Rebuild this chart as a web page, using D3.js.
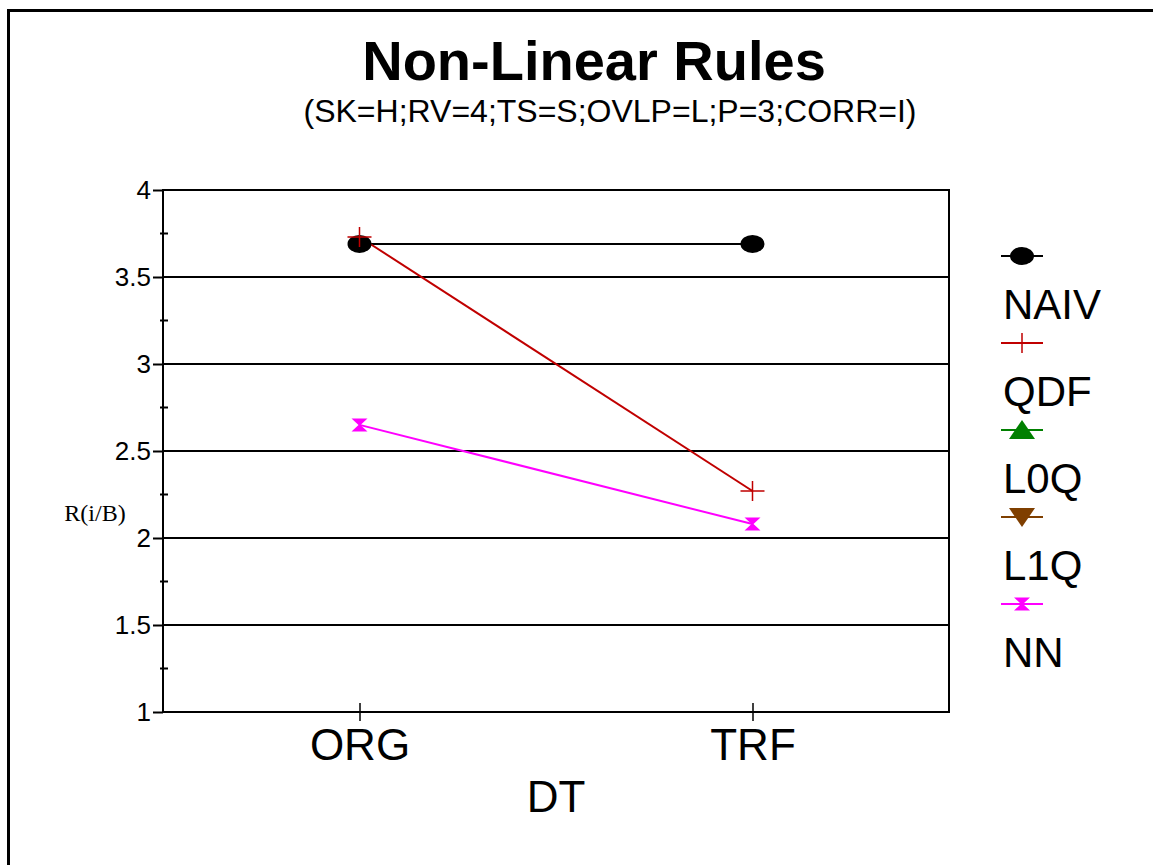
<!DOCTYPE html>
<html>
<head>
<meta charset="utf-8">
<script src="https://cdn.jsdelivr.net/npm/d3@7"></script>
<style>
  body { margin: 0; background: #fff; }
  svg { display: block; font-family: "Liberation Sans", Arial, sans-serif; }
</style>
</head>
<body>
<div id="chart"></div>
<script>
// data
const categories = ["ORG", "TRF"];
const seriesNames = ["NAIV", "QDF", "L0Q", "L1Q", "NN"];
const naivValues = [3.69, 3.69];
const qdfValues = [3.73, 2.27];
const l0qValues = [];
const l1qValues = [];
const nnValues = [2.65, 2.08];
const yTicks = [1, 1.5, 2, 2.5, 3, 3.5, 4];
const yMinorTicks = [1.25, 1.75, 2.25, 2.75, 3.25, 3.75];

const seriesColors = ["#000000", "#c00000", "#008000", "#7f3f00", "#ff00ff"];
const seriesShapes = ["ellipse", "plus", "triUp", "triDown", "hourglass"];
const seriesValues = [naivValues, qdfValues, l0qValues, l1qValues, nnValues];

const W = 1153, H = 865;
const margin = { top: 190, left: 163, right: W - 949, bottom: H - 712 };
const width = W - margin.left - margin.right;
const height = H - margin.top - margin.bottom;

const svg = d3.select("#chart").append("svg")
    .attr("width", W)
    .attr("height", H);

// outer frame, runs off the right and bottom edges
svg.append("rect")
    .attr("x", 8.5).attr("y", 10.5)
    .attr("width", 1300).attr("height", 1000)
    .attr("fill", "none")
    .attr("stroke", "#000")
    .attr("stroke-width", 3);

svg.append("text")
    .attr("x", 594).attr("y", 80)
    .attr("text-anchor", "middle")
    .attr("font-size", 56)
    .attr("font-weight", "bold")
    .text("Non-Linear Rules");

svg.append("text")
    .attr("x", 610).attr("y", 122)
    .attr("text-anchor", "middle")
    .attr("font-size", 32)
    .text("(SK=H;RV=4;TS=S;OVLP=L;P=3;CORR=I)");

const g = svg.append("g")
    .attr("transform", `translate(${margin.left}, ${margin.top})`);

const x = d3.scalePoint().domain(categories).range([0, width]).padding(0.5);
const y = d3.scaleLinear().domain([1, 4]).range([height, 0]);

// gridlines
g.selectAll(".grid").data(yTicks.filter(d => d > 1 && d < 4))
    .enter().append("line")
    .attr("class", "grid")
    .attr("x1", 0).attr("x2", width)
    .attr("y1", d => y(d)).attr("y2", d => y(d))
    .attr("stroke", "#000")
    .attr("stroke-width", 2);

// plot border
g.append("rect")
    .attr("x", 0).attr("y", 0)
    .attr("width", width).attr("height", height)
    .attr("fill", "none")
    .attr("stroke", "#000")
    .attr("stroke-width", 2);

// y axis
const yAxis = d3.axisLeft(y).tickValues(yTicks).tickSize(10).tickPadding(2).tickFormat(d3.format("~g"));
const yAxisG = g.append("g").call(yAxis);
yAxisG.select(".domain").remove();
yAxisG.selectAll("line").attr("stroke-width", 2);
yAxisG.selectAll("text")
    .attr("font-size", 26)
    .attr("font-family", "Liberation Sans, Arial, sans-serif")
    .attr("fill", "#000");

g.selectAll(".minor").data(yMinorTicks)
    .enter().append("line")
    .attr("class", "minor")
    .attr("x1", -3).attr("x2", 5)
    .attr("y1", d => y(d)).attr("y2", d => y(d))
    .attr("stroke", "#000")
    .attr("stroke-width", 2);

// x axis
const xAxis = d3.axisBottom(x).tickSizeInner(9).tickSizeOuter(0).tickPadding(10);
const xAxisG = g.append("g")
    .attr("transform", `translate(0, ${height})`)
    .call(xAxis);
xAxisG.select(".domain").remove();
xAxisG.selectAll("line").attr("y1", -9).attr("stroke-width", 1.5);
xAxisG.selectAll("text")
    .attr("font-size", 44)
    .attr("font-family", "Liberation Sans, Arial, sans-serif")
    .attr("fill", "#000")
    .attr("dy", null)
    .attr("y", 48);

svg.append("text")
    .attr("x", margin.left + width / 2).attr("y", 812)
    .attr("text-anchor", "middle")
    .attr("font-size", 44)
    .text("DT");

svg.append("text")
    .attr("x", 95).attr("y", 521)
    .attr("text-anchor", "middle")
    .attr("font-family", "Liberation Serif, 'Times New Roman', serif")
    .attr("font-size", 24)
    .text("R(i/B)");

function drawMarker(sel, shape, color) {
    if (shape === "ellipse") {
        sel.append("ellipse").attr("rx", 12).attr("ry", 9).attr("fill", color);
    } else if (shape === "plus") {
        sel.append("path").attr("d", "M-12,0H12M0,-10V10")
            .attr("stroke", color).attr("stroke-width", 1.5).attr("fill", "none");
    } else if (shape === "triUp") {
        sel.append("path").attr("d", "M0,-10L13,9H-13Z").attr("fill", color);
    } else if (shape === "triDown") {
        sel.append("path").attr("d", "M0,10L13,-9H-13Z").attr("fill", color);
    } else if (shape === "hourglass") {
        sel.append("path").attr("d", "M-8,-6.5H8L1,0H-1ZM-8,6.5H8L1,0H-1Z").attr("fill", color);
    }
}

const line = d3.line()
    .x((d, i) => x(categories[i]))
    .y(d => y(d));

seriesNames.forEach((name, si) => {
    const vals = seriesValues[si];
    if (vals.length === 0) return;
    g.append("path")
        .datum(vals)
        .attr("d", line)
        .attr("fill", "none")
        .attr("stroke", seriesColors[si])
        .attr("stroke-width", 2);
});

seriesNames.forEach((name, si) => {
    seriesValues[si].forEach((v, i) => {
        const m = g.append("g").attr("transform", `translate(${x(categories[i])}, ${y(v)})`);
        drawMarker(m, seriesShapes[si], seriesColors[si]);
    });
});

// legend
const legend = svg.append("g").attr("transform", "translate(1001, 256)");
seriesNames.forEach((name, si) => {
    const item = legend.append("g").attr("transform", `translate(0, ${si * 87})`);
    item.append("line")
        .attr("x1", 0).attr("x2", 42)
        .attr("stroke", seriesColors[si])
        .attr("stroke-width", 2);
    const m = item.append("g").attr("transform", "translate(21, 0)");
    drawMarker(m, seriesShapes[si], seriesColors[si]);
    item.append("text")
        .attr("x", 2).attr("y", 63)
        .attr("font-size", 42)
        .text(name);
});
</script>
</body>
</html>
